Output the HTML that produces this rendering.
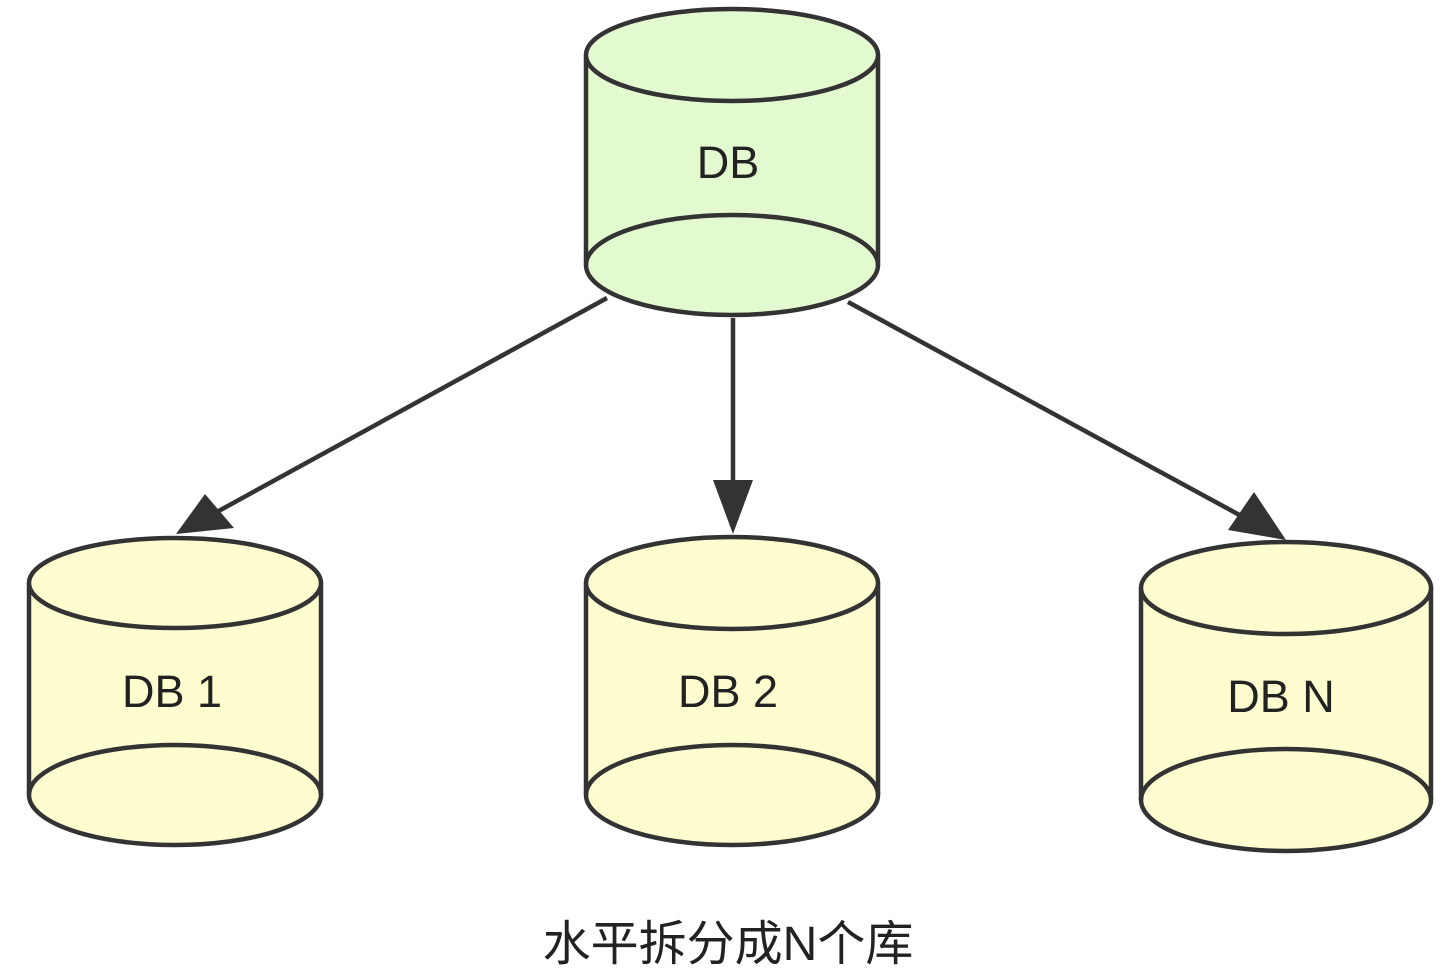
<!DOCTYPE html>
<html><head><meta charset="utf-8"><style>
html,body{margin:0;padding:0;background:#fff;}
svg{display:block}
text{font-family:"Liberation Sans","Noto Sans CJK SC",sans-serif;fill:#222}
</style></head><body>
<svg width="1448" height="973" viewBox="0 0 1448 973" xmlns="http://www.w3.org/2000/svg">
<g stroke="#333" stroke-width="4.5">
<path d="M586,55 L586,265 A146,50 0 0 0 878,265 L878,55" fill="#e3fad0"/>
<ellipse cx="732" cy="55" rx="146" ry="46" fill="#e3fad0"/>
<path d="M586,265 A146,50 0 0 1 878,265" fill="none"/>
<path d="M29,583 L29,795 A146,50 0 0 0 321,795 L321,583" fill="#fdfdd0"/>
<ellipse cx="175" cy="583" rx="146" ry="45" fill="#fdfdd0"/>
<path d="M29,795 A146,50 0 0 1 321,795" fill="none"/>
<path d="M586,583 L586,795 A146,50 0 0 0 878,795 L878,583" fill="#fdfdd0"/>
<ellipse cx="732" cy="583" rx="146" ry="46" fill="#fdfdd0"/>
<path d="M586,795 A146,50 0 0 1 878,795" fill="none"/>
<path d="M1141,588 L1141,800 A145,51 0 0 0 1431,800 L1431,588" fill="#fdfdd0"/>
<ellipse cx="1286" cy="588" rx="145" ry="46" fill="#fdfdd0"/>
<path d="M1141,800 A145,51 0 0 1 1431,800" fill="none"/>
<line x1="607" y1="298" x2="215" y2="513"/>
<line x1="733" y1="318" x2="733" y2="490"/>
<line x1="848" y1="302" x2="1245" y2="518"/>
</g>
<g fill="#333" stroke="none">
<polygon points="176,534 205,494 234,528"/>
<polygon points="733,534 713,480 753,480"/>
<polygon points="1286,540 1228,530 1254,492"/>
</g>
<text x="728" y="178" font-size="45" text-anchor="middle">DB</text>
<text x="172" y="707" font-size="45" text-anchor="middle">DB 1</text>
<text x="728" y="707" font-size="45" text-anchor="middle">DB 2</text>
<text x="1281" y="712" font-size="45" text-anchor="middle">DB N</text>
<text x="728" y="960" font-size="48" text-anchor="middle">水平拆分成N个库</text>
</svg>
</body></html>
